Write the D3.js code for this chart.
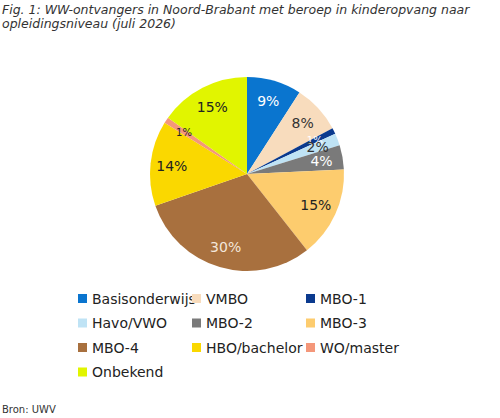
<!DOCTYPE html>
<html><head><meta charset="utf-8">
<script src="https://cdn.jsdelivr.net/npm/d3@7"></script>
<style>body{margin:0;background:#fff}</style>
</head><body>
<svg id="c" width="500" height="418"></svg>
<script>
var categories = ['Basisonderwijs', 'VMBO', 'MBO-1', 'Havo/VWO', 'MBO-2', 'MBO-3', 'MBO-4', 'HBO/bachelor', 'WO/master', 'Onbekend'];
var values = [9, 8, 1, 2, 4, 15, 30, 14, 1, 15];
var colors = ['#0a75cf', '#f8dcbd', '#0b3a8e', '#bfe3f5', '#7a7a7a', '#fdcc6e', '#a8703e', '#fad800', '#f4977a', '#e1f500'];
var labelColors = ['#fff', '#333', '#fff', '#333', '#fff', '#222', '#f3e6da', '#222', '#222', '#222'];

var svg = d3.select('#c');
var font = 'DejaVu Sans, Verdana, sans-serif';

svg.append('text').attr('x', 2).attr('y', 14).attr('font-family', font).attr('font-style', 'italic')
    .attr('font-size', 12.5).attr('fill', '#333').text('Fig. 1: WW-ontvangers in Noord-Brabant met beroep in kinderopvang naar');
svg.append('text').attr('x', 2).attr('y', 28).attr('font-family', font).attr('font-style', 'italic')
    .attr('font-size', 12.5).attr('fill', '#333').text('opleidingsniveau (juli 2026)');

var cx = 247, cy = 174, r = 97;
var pie = d3.pie().sort(null).value(function (d) { return d; });
var arc = d3.arc().innerRadius(0).outerRadius(r);
var lblArc = d3.arc().innerRadius(r * 0.78).outerRadius(r * 0.78);
var g = svg.append('g').attr('transform', 'translate(' + cx + ',' + cy + ')');
var arcs = pie(values);
g.selectAll('path').data(arcs).enter().append('path')
    .attr('d', arc).attr('fill', function (d, i) { return colors[i]; });
g.selectAll('text').data(arcs).enter().append('text')
    .attr('transform', function (d) { return 'translate(' + lblArc.centroid(d) + ')'; })
    .attr('text-anchor', 'middle').attr('dy', '0.35em')
    .attr('font-family', font)
    .attr('font-size', function (d) { return d.data < 2 ? 10 : 14; })
    .attr('fill', function (d, i) { return labelColors[i]; })
    .text(function (d) { return d.data + '%'; });

var leg = svg.append('g');
categories.forEach(function (c, i) {
    var x = 78 + (i % 3) * 114, y = 299 + Math.floor(i / 3) * 24.5;
    leg.append('rect').attr('x', x).attr('y', y - 5).attr('width', 9).attr('height', 9).attr('fill', colors[i]);
    leg.append('text').attr('x', x + 14).attr('y', y).attr('dy', '0.35em')
        .attr('font-family', font).attr('font-size', 14).attr('fill', '#222').text(c);
});

svg.append('text').attr('x', 2).attr('y', 413).attr('font-family', font)
    .attr('font-size', 10).attr('fill', '#333').text('Bron: UWV');
</script>
</body></html>
